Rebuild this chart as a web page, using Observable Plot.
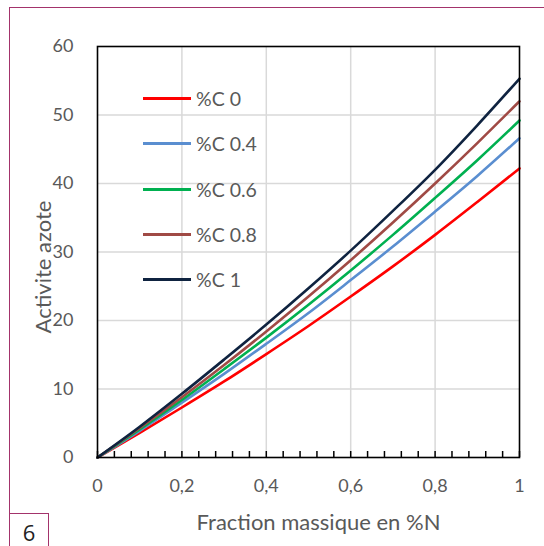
<!DOCTYPE html>
<html>
<head>
<meta charset="utf-8">
<script src="https://cdn.jsdelivr.net/npm/d3@7"></script>
<script src="https://cdn.jsdelivr.net/npm/@observablehq/plot@0.6"></script>
<style>
  html, body { margin: 0; padding: 0; background: #fff; }
  #wrap { position: relative; width: 544px; height: 546px; overflow: hidden; font-family: Lato, "Open Sans", sans-serif; }
  #frame { position: absolute; left: 9px; top: 7px; width: 600px; height: 600px; border-top: 1.5px solid #a3336b; border-left: 1.5px solid #a3336b; }
  #badge { position: absolute; left: 9px; top: 513px; width: 38px; height: 40px; border: 1.5px solid #a3336b; font-size: 22px; color: #222; text-align: center; line-height: 36px; font-family: "Open Sans", sans-serif; }
  #chart { position: absolute; left: 0; top: 0; }
  #legend { position: absolute; left: 143px; top: 76px; }
  .row { display: flex; align-items: center; height: 45.3px; font-size: 19.5px; color: #595959; }
  .sw { width: 48px; height: 3px; margin-right: 5px; }
</style>
</head>
<body>
<div id="wrap">
  <div id="frame"></div>
  <div id="badge">6</div>
  <div id="chart"></div>
  <div id="legend"></div>
</div>
<script>
// Data
const fractionN = [0, 0.1, 0.2, 0.3, 0.4, 0.5, 0.6, 0.7, 0.8, 0.9, 1];
const series = ["%C 0", "%C 0.4", "%C 0.6", "%C 0.8", "%C 1"];
const c0  = [0, 3.6, 7.3, 11.1, 15.1, 19.2, 23.5, 27.9, 32.5, 37.3, 42.2];
const c04 = [0, 3.9, 8.0, 12.2, 16.6, 21.1, 25.9, 30.8, 35.9, 41.1, 46.6];
const c06 = [0, 4.1, 8.4, 12.9, 17.5, 22.3, 27.3, 32.5, 37.9, 43.4, 49.2];
const c08 = [0, 4.3, 8.8, 13.5, 18.4, 23.5, 28.8, 34.3, 40.0, 45.9, 52.0];
const c1  = [0, 4.5, 9.3, 14.3, 19.4, 24.7, 30.2, 36.0, 42.0, 48.5, 55.3];
const colors = ["#ff0000", "#5a8ed0", "#00b050", "#a04a45", "#0f2340"];
const xTicks = [0, 0.2, 0.4, 0.6, 0.8, 1];
const yTicks = [0, 10, 20, 30, 40, 50, 60];
const xMinor = d3.range(0, 26).map(i => i * 0.04);
const xTitle = "Fraction massique en %N";
const yTitle = "Activite azote";

const values = [c0, c04, c06, c08, c1];
const data = series.flatMap((s, i) => fractionN.map((x, j) => ({x, y: values[i][j], s})));

const W = 544, H = 546, mT = 46, mB = 89, mL = 97, mR = 25;
const innerH = H - mT - mB;

const chart = Plot.plot({
  width: W, height: H,
  marginTop: mT, marginBottom: mB, marginLeft: mL, marginRight: mR,
  style: {fontFamily: "Lato, 'Open Sans', sans-serif", fontSize: "18px", color: "#595959", background: "transparent", overflow: "visible"},
  x: {domain: [0, 1]},
  y: {domain: [0, 60]},
  color: {domain: series, range: colors},
  marks: [
    Plot.gridX(xTicks.slice(1, -1), {stroke: "#d9d9d9", strokeOpacity: 1, strokeWidth: 1.5}),
    Plot.gridY(yTicks.slice(1, -1), {stroke: "#d9d9d9", strokeOpacity: 1, strokeWidth: 1.5}),
    Plot.axisY(yTicks, {tickSize: 0, tickPadding: 24, label: null, fill: "#595959"}),
    Plot.axisX(xTicks, {tickSize: 0, tickPadding: 22, label: null, fill: "#595959", tickFormat: d => String(d).replace(".", ",")}),
    Plot.tickX(xMinor, {x: d => d, stroke: "#000", strokeWidth: 1.5, insetTop: innerH - 6}),
    Plot.line(data, {x: "x", y: "y", stroke: "s", strokeWidth: 2.6, curve: "monotone-x"}),
    Plot.frame({stroke: "#000", strokeWidth: 1.6}),
    Plot.text([yTitle], {frameAnchor: "left", textAnchor: "middle", lineAnchor: "middle", rotate: -90, dx: -54, dy: 15, fontSize: 22, fill: "#595959"}),
    Plot.text([xTitle], {frameAnchor: "bottom", textAnchor: "middle", lineAnchor: "middle", dx: 10, dy: 65, fontSize: 22, fill: "#595959"})
  ]
});
document.getElementById("chart").appendChild(chart);

const legend = document.getElementById("legend");
series.forEach((s, i) => {
  const row = document.createElement("div");
  row.className = "row";
  const sw = document.createElement("div");
  sw.className = "sw";
  sw.style.background = colors[i];
  const t = document.createElement("span");
  t.textContent = s;
  row.appendChild(sw);
  row.appendChild(t);
  legend.appendChild(row);
});
</script>
</body>
</html>
